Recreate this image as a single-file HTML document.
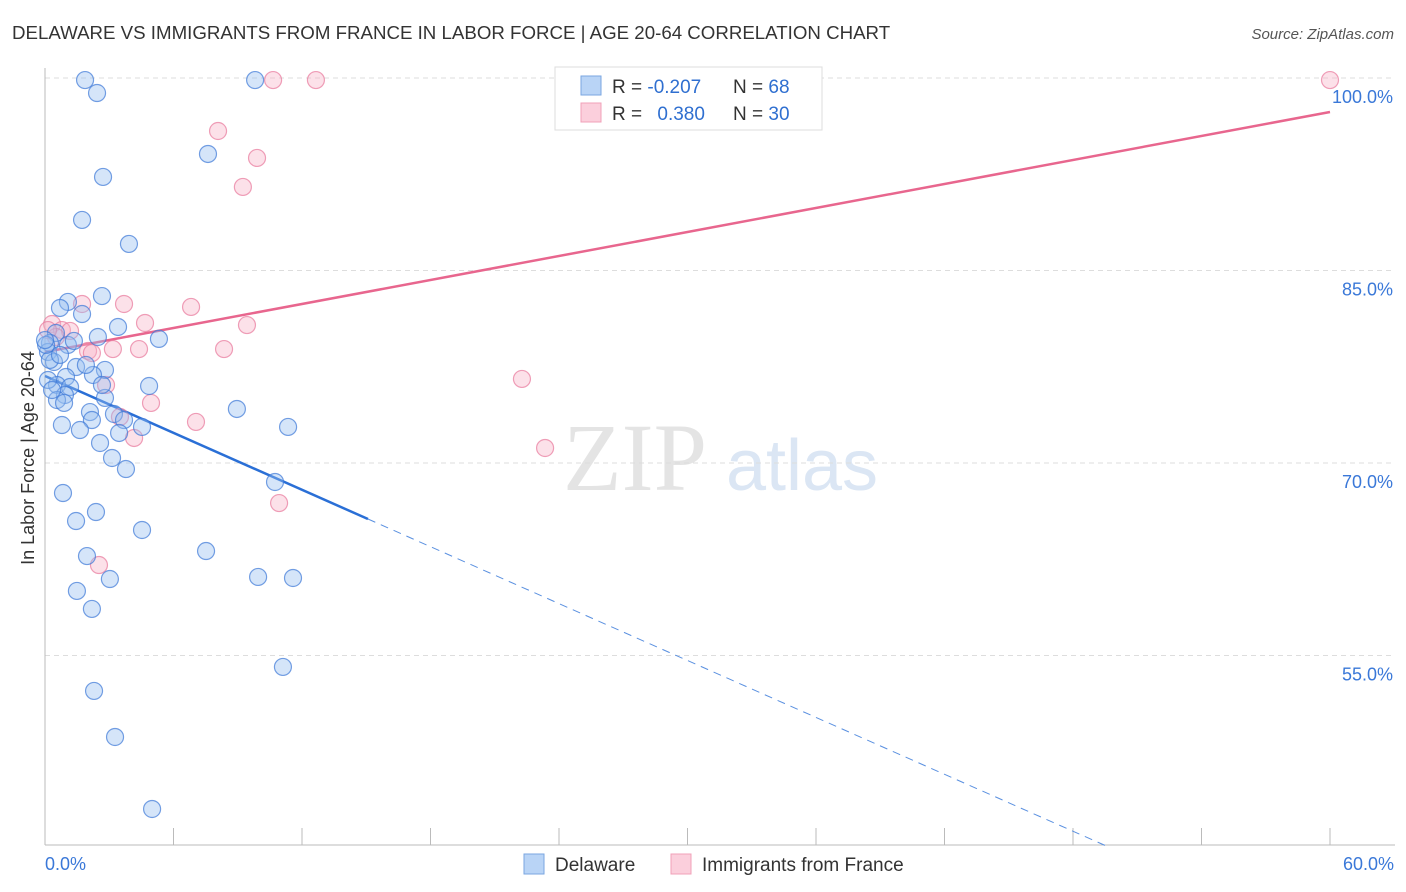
<!DOCTYPE html>
<html><head><meta charset="utf-8"><style>
body{margin:0;background:#fff;font-family:"Liberation Sans",sans-serif}
svg{display:block}
</style></head><body>
<svg id="chart" width="1406" height="892">
<text x="12" y="39" font-size="18.7" fill="#333">DELAWARE VS IMMIGRANTS FROM FRANCE IN LABOR FORCE | AGE 20-64 CORRELATION CHART</text>
<text x="1394" y="39" font-size="15" fill="#555" font-style="italic" text-anchor="end">Source: ZipAtlas.com</text>
<text x="34" y="458" font-size="18" fill="#333" text-anchor="middle" transform="rotate(-90 34 458)">In Labor Force | Age 20-64</text>
<g id="watermark">
<text x="635" y="490" font-size="96" fill="#e4e4e4" font-family="Liberation Serif,serif" text-anchor="middle">ZIP</text>
<text x="802" y="490" font-size="72" fill="#dbe6f4" text-anchor="middle">atlas</text>
</g>
<g id="grid"></g><g id="axes"></g><g id="trends"></g><g id="pts"></g>
<g>
<rect x="555" y="67" width="267" height="63" fill="#fff" stroke="#ddd"/>
<rect x="581" y="76" width="20" height="19" fill="#b9d4f6" stroke="#7aa6e0"/>
<rect x="581" y="103" width="20" height="19" fill="#fbcfdc" stroke="#f0a0b8"/>
<text x="612" y="93" font-size="19" fill="#333">R = <tspan fill="#2f6fd0">-0.207</tspan></text>
<text x="733" y="93" font-size="19" fill="#333">N = <tspan fill="#2f6fd0">68</tspan></text>
<text x="612" y="120" font-size="19" fill="#333">R = <tspan fill="#2f6fd0" dx="10">0.380</tspan></text>
<text x="733" y="120" font-size="19" fill="#333">N = <tspan fill="#2f6fd0">30</tspan></text>
</g>
<g>
<rect x="524" y="854" width="20" height="20" fill="#b9d4f6" stroke="#7aa6e0"/>
<text x="555" y="871" font-size="19" fill="#333">Delaware</text>
<rect x="671" y="854" width="20" height="20" fill="#fbcfdc" stroke="#f0a0b8"/>
<text x="702" y="871" font-size="19" fill="#333">Immigrants from France</text>
</g>
</svg>
<script>
const yTicks=[55,70,85,100];
const xTickLabels=["0.0%","60.0%"];
const blueX=[1.87,9.81,2.43,7.61,2.71,1.73,3.92,2.66,1.07,0.70,1.73,3.41,2.47,5.32,0.51,0.23,1.07,0.14,0.42,1.45,2.80,2.24,0.98,0.56,1.17,4.86,0.93,0.56,0.89,2.80,2.10,2.19,3.22,3.69,8.96,0.79,1.63,4.53,3.46,11.35,2.57,3.13,3.78,10.74,0.84,2.38,1.45,4.53,7.52,1.96,3.03,9.95,11.58,1.49,2.19,11.11,2.29,3.27,5.00,0.23,0.05,0.14,0.33,0.70,1.35,1.91,2.66,0];
const blueY=[99.84,99.84,98.83,94.08,92.29,88.94,87.07,83.01,82.55,82.08,81.61,80.60,79.82,79.67,80.13,79.35,79.20,78.65,77.87,77.48,77.25,76.86,76.70,76.08,75.92,76.00,75.30,74.91,74.68,75.07,73.97,73.35,73.82,73.35,74.21,72.96,72.57,72.81,72.34,72.81,71.56,70.39,69.53,68.52,67.66,66.18,65.48,64.78,63.14,62.75,60.96,61.12,61.04,60.03,58.63,54.11,52.24,48.65,43.04,78.03,79.20,76.47,75.69,78.42,79.51,77.64,76.08,79.58];
const pinkX=[10.65,12.65,60,8.08,9.90,9.24,1.73,3.69,6.82,4.67,9.43,0.33,0.79,1.17,0.51,3.17,4.39,2.01,2.19,8.36,2.85,4.95,3.50,7.05,4.16,22.27,23.35,10.93,2.52,0.14];
const pinkY=[99.84,99.84,99.84,95.87,93.77,91.51,82.39,82.39,82.16,80.91,80.75,80.83,80.36,80.29,79.82,78.88,78.88,78.73,78.57,78.88,76.08,74.68,73.59,73.20,71.95,76.55,71.17,66.88,62.05,80.36];
const blueTrend=[76.78,-0.739];
const pinkTrend=[78.65,0.3117];
const NS="http://www.w3.org/2000/svg";
const X0=45,X1=1330,YT=78;
const sx=v=>X0+v/60*(X1-X0);
const sy=v=>YT+(100-v)/15*192.5;
function mk(t,a,p){const e=document.createElementNS(NS,t);for(const k in a)e.setAttribute(k,a[k]);p.appendChild(e);return e;}
const grid=document.getElementById('grid'),axes=document.getElementById('axes');
yTicks.forEach(t=>{
 const l=mk('line',{x1:X0,x2:1395,y1:sy(t),y2:sy(t),stroke:'#ddd','stroke-dasharray':'5,4'},grid);
 
 
 const tx=mk('text',{x:1393,y:sy(t)+25,'font-size':18,fill:'#3a78d8','text-anchor':'end'},axes);
 tx.textContent=t.toFixed(1)+'%';
 
 
});
const yl=mk('line',{x1:X0,x2:X0,y1:68,y2:845,stroke:'#bbb'},axes);


const xl=mk('line',{x1:X0,x2:1395,y1:845,y2:845,stroke:'#bbb'},axes);


for(let i=0;i<=10;i++){const tk=mk('line',{x1:sx(i*6),x2:sx(i*6),y1:828,y2:845,stroke:'#bbb'},axes);
 
 }
[[0,'start',X0],[1,'end',1394]].forEach(([i,a,x])=>{const t=mk('text',{x:x,y:870,'font-size':18,fill:'#3a78d8','text-anchor':a},axes);t.textContent=xTickLabels[i];
 
 });
const tr=document.getElementById('trends');
const ymin=40.2;
let xe=(ymin-blueTrend[0])/blueTrend[1];
const bs=mk('line',{x1:sx(0),y1:sy(blueTrend[0]),x2:sx(15.08),y2:sy(blueTrend[0]+blueTrend[1]*15.08),stroke:'#2a6fd6','stroke-width':2.5},tr);


const bd=mk('line',{x1:sx(15.08),y1:sy(blueTrend[0]+blueTrend[1]*15.08),x2:sx(xe),y2:sy(ymin),stroke:'#5a90e0','stroke-width':1,'stroke-dasharray':'8,6'},tr);


const pl=mk('line',{x1:sx(0),y1:sy(pinkTrend[0]),x2:sx(60),y2:sy(pinkTrend[0]+pinkTrend[1]*60),stroke:'#e8668e','stroke-width':2.5},tr);


const pts=document.getElementById('pts');
pinkX.forEach((x,i)=>{const c=mk('circle',{cx:sx(x),cy:sy(pinkY[i]),r:8.5,fill:'rgba(248,180,200,0.4)',stroke:'rgba(232,120,155,0.7)','stroke-width':1.2},pts);
 
 });
blueX.forEach((x,i)=>{const c=mk('circle',{cx:sx(x),cy:sy(blueY[i]),r:8.5,fill:'rgba(150,190,240,0.4)',stroke:'rgba(60,120,215,0.7)','stroke-width':1.2},pts);
 
 });
</script>
</body></html>
